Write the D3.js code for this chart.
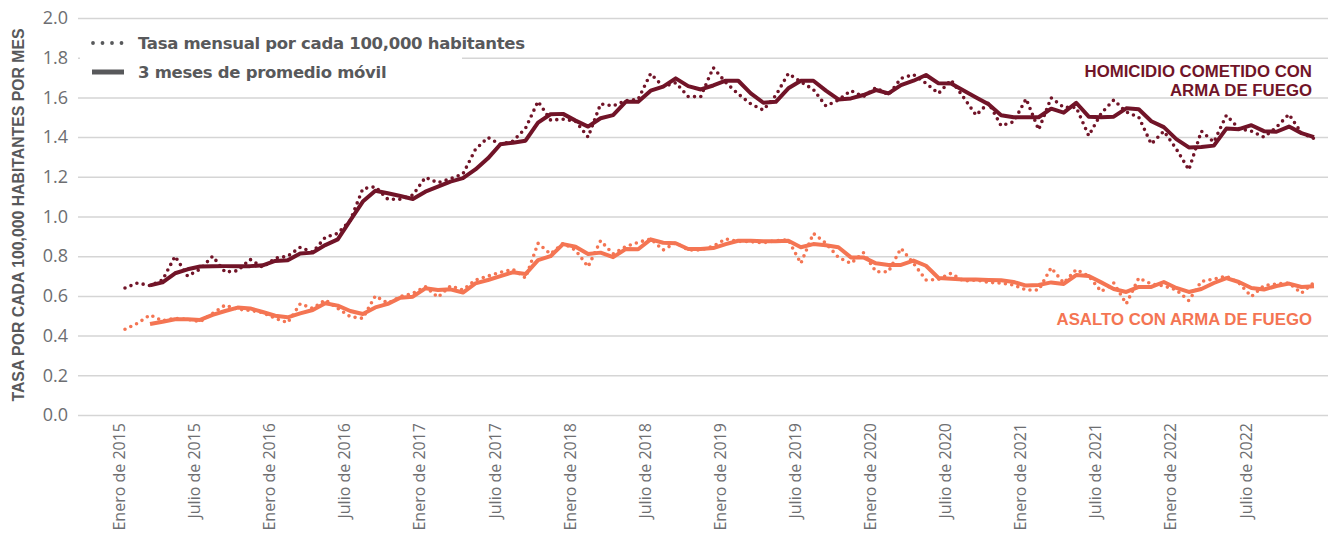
<!DOCTYPE html>
<html>
<head>
<meta charset="utf-8">
<script src="https://cdn.jsdelivr.net/npm/d3@7"></script>
<style>
  body { margin: 0; background: #fff; }
  svg { display: block; }
</style>
</head>
<body>
<div id="chart"></div>
<script>
// meses desde enero de 2015 (0) hasta diciembre de 2022 (95)
const tickMonths = [0, 6, 12, 18, 24, 30, 36, 42, 48, 54, 60, 66, 72, 78, 84, 90];
const tickLabels = ["Enero de 2015", "Julio de 2015", "Enero de 2016", "Julio de 2016",
                    "Enero de 2017", "Julio de 2017", "Enero de 2018", "Julio de 2018",
                    "Enero de 2019", "Julio de 2019", "Enero de 2020", "Julio de 2020",
                    "Enero de 2021", "Julio de 2021", "Enero de 2022", "Julio de 2022"];
const yTicks = [0, 0.2, 0.4, 0.6, 0.8, 1.0, 1.2, 1.4, 1.6, 1.8, 2.0];

const homicidio = [0.64,0.665,0.652,0.68,0.80,0.70,0.734,0.80,0.72,0.727,
  0.784,0.744,0.79,0.80,0.845,0.82,0.895,0.915,0.98,1.14,
  1.15,1.087,1.087,1.108,1.197,1.17,1.19,1.214,1.338,1.398,
  1.363,1.38,1.444,1.58,1.486,1.49,1.48,1.40,1.567,1.557,
  1.584,1.59,1.72,1.654,1.674,1.604,1.604,1.75,1.675,1.617,
  1.567,1.536,1.61,1.72,1.678,1.64,1.557,1.587,1.634,1.604,
  1.649,1.612,1.696,1.715,1.671,1.62,1.688,1.60,1.51,1.573,
  1.457,1.477,1.593,1.437,1.598,1.55,1.55,1.407,1.52,1.587,
  1.527,1.50,1.365,1.43,1.34,1.235,1.43,1.375,1.51,1.443,
  1.43,1.40,1.45,1.515,1.42,1.393];

const homicidioProm = [null,null,0.653,0.668,0.714,0.734,0.748,0.749,0.75,0.75,
  0.75,0.754,0.776,0.78,0.814,0.818,0.856,0.885,0.98,1.075,
  1.13,1.117,1.103,1.088,1.125,1.15,1.176,1.193,1.237,1.293,
  1.364,1.372,1.382,1.473,1.515,1.517,1.483,1.453,1.495,1.511,
  1.578,1.578,1.634,1.654,1.696,1.657,1.64,1.66,1.684,1.684,
  1.62,1.573,1.578,1.646,1.684,1.684,1.634,1.59,1.595,1.612,
  1.637,1.62,1.662,1.684,1.713,1.671,1.67,1.635,1.60,1.565,
  1.51,1.50,1.50,1.50,1.543,1.523,1.573,1.503,1.50,1.503,
  1.545,1.54,1.48,1.45,1.39,1.348,1.35,1.357,1.443,1.44,
  1.46,1.43,1.427,1.453,1.42,1.40];

const asalto = [0.432,0.462,0.504,0.475,0.487,0.482,0.47,0.512,0.554,0.533,
  0.527,0.516,0.487,0.465,0.56,0.537,0.58,0.537,0.495,0.487,
  0.60,0.563,0.597,0.613,0.647,0.593,0.65,0.63,0.68,0.70,
  0.719,0.734,0.69,0.865,0.811,0.865,0.83,0.747,0.878,0.811,
  0.848,0.87,0.887,0.831,0.868,0.831,0.831,0.851,0.887,0.875,
  0.873,0.868,0.878,0.882,0.764,0.915,0.865,0.794,0.764,0.818,
  0.722,0.722,0.84,0.764,0.68,0.683,0.714,0.675,0.68,0.668,
  0.665,0.655,0.63,0.63,0.742,0.665,0.733,0.70,0.622,0.665,
  0.56,0.69,0.66,0.65,0.63,0.576,0.673,0.685,0.70,0.665,
  0.597,0.652,0.66,0.665,0.614,0.668];

const asaltoProm = [null,null,0.458,0.47,0.482,0.482,0.479,0.504,0.524,0.541,
  0.537,0.519,0.50,0.492,0.512,0.529,0.563,0.551,0.524,0.509,
  0.542,0.56,0.591,0.596,0.638,0.63,0.633,0.617,0.663,0.68,
  0.70,0.719,0.71,0.78,0.80,0.861,0.848,0.811,0.818,0.795,
  0.836,0.835,0.885,0.868,0.865,0.836,0.836,0.841,0.861,0.878,
  0.878,0.875,0.875,0.878,0.845,0.861,0.855,0.845,0.794,0.794,
  0.764,0.756,0.756,0.778,0.752,0.69,0.687,0.683,0.682,0.68,
  0.679,0.67,0.652,0.655,0.668,0.66,0.705,0.70,0.668,0.635,
  0.62,0.645,0.645,0.67,0.64,0.62,0.635,0.665,0.69,0.67,
  0.64,0.632,0.65,0.662,0.645,0.648];

const colorHom = "#711428",
      colorAsa = "#f47553",
      gray = "#58595b";

const width = 1333,
      height = 533;

const svg = d3.select("#chart")
              .append("svg")
              .attr("width", width)
              .attr("height", height);

const x = d3.scaleLinear().domain([0, 95]).range([125, 1314]);
const y = d3.scaleLinear().domain([0, 2]).range([415, 18]);

// Grid + y labels
svg.append("g")
   .attr("transform", "translate(78,0)")
   .call(d3.axisLeft(y).tickValues(yTicks).tickFormat(d3.format(".1f")).tickSize(-1250).tickPadding(10))
   .call(g => g.select(".domain").remove())
   .call(g => g.selectAll("line").attr("stroke", "#d5d5d5").attr("stroke-width", 1.5))
   .call(g => g.selectAll("text")
               .attr("fill", "#6d6e71")
               .style("font", "18px 'Open Sans', sans-serif"));

// x labels
svg.append("g")
   .attr("transform", "translate(0,415)")
   .call(d3.axisBottom(x).tickValues(tickMonths).tickFormat((d, i) => tickLabels[i]).tickSize(0))
   .call(g => g.select(".domain").remove())
   .selectAll("text")
   .attr("transform", "rotate(-90)")
   .attr("text-anchor", "end")
   .attr("x", -8)
   .attr("y", -6)
   .attr("dy", "0.35em")
   .attr("fill", "#6d6e71")
   .style("font", "16px 'Open Sans', sans-serif");

// Y title
svg.append("text")
   .attr("transform", "translate(24,215) rotate(-90)")
   .attr("text-anchor", "middle")
   .attr("fill", gray)
   .style("font", "bold 15.8px 'Liberation Sans', Arial, sans-serif")
   .text("TASA POR CADA 100,000 HABITANTES POR MES");

// Legend (white box hides grid)
const legend = svg.append("g");
legend.append("rect")
      .attr("x", 80).attr("y", 28)
      .attr("width", 382).attr("height", 60)
      .attr("fill", "#fff");
legend.append("line")
      .attr("x1", 93).attr("x2", 124).attr("y1", 43).attr("y2", 43)
      .attr("stroke", gray).attr("stroke-width", 3.8)
      .attr("stroke-linecap", "round").attr("stroke-dasharray", "0 9.5");
legend.append("line")
      .attr("x1", 92).attr("x2", 124).attr("y1", 72).attr("y2", 72)
      .attr("stroke", gray).attr("stroke-width", 5);
legend.selectAll(".lg-text")
      .data(["Tasa mensual por cada 100,000 habitantes", "3 meses de promedio móvil"])
      .join("text")
      .attr("class", "lg-text")
      .attr("x", 138)
      .attr("y", (d, i) => 43 + i * 29)
      .attr("dy", "0.35em")
      .attr("fill", gray)
      .style("font", "bold 16.5px 'DejaVu Sans', sans-serif")
      .style("letter-spacing", "-0.3px")
      .text(d => d);

// Lines
const line = d3.line()
               .defined(d => d != null)
               .x((d, i) => x(i))
               .y(d => y(d));

function drawSeries(raw, avg, color) {
    svg.append("path")
       .datum(raw)
       .attr("d", line)
       .attr("fill", "none")
       .attr("stroke", color)
       .attr("stroke-width", 3.6)
       .attr("stroke-linecap", "round")
       .attr("stroke-dasharray", "0 6.4");

    svg.append("path")
       .datum(avg)
       .attr("d", line)
       .attr("fill", "none")
       .attr("stroke", color)
       .attr("stroke-width", 4)
       .attr("stroke-linejoin", "round");
}

drawSeries(asalto, asaltoProm, colorAsa);
drawSeries(homicidio, homicidioProm, colorHom);

// Series labels
svg.append("text")
   .attr("x", 1312).attr("y", 77)
   .attr("text-anchor", "end")
   .attr("fill", colorHom)
   .style("font", "bold 16.8px 'Liberation Sans', Arial, sans-serif")
   .call(t => {
       t.append("tspan").attr("x", 1312).text("HOMICIDIO COMETIDO CON");
       t.append("tspan").attr("x", 1312).attr("dy", 19).text("ARMA DE FUEGO");
   });

svg.append("text")
   .attr("x", 1312).attr("y", 325)
   .attr("text-anchor", "end")
   .attr("fill", colorAsa)
   .style("font", "bold 16.8px 'Liberation Sans', Arial, sans-serif")
   .text("ASALTO CON ARMA DE FUEGO");
</script>
</body>
</html>
